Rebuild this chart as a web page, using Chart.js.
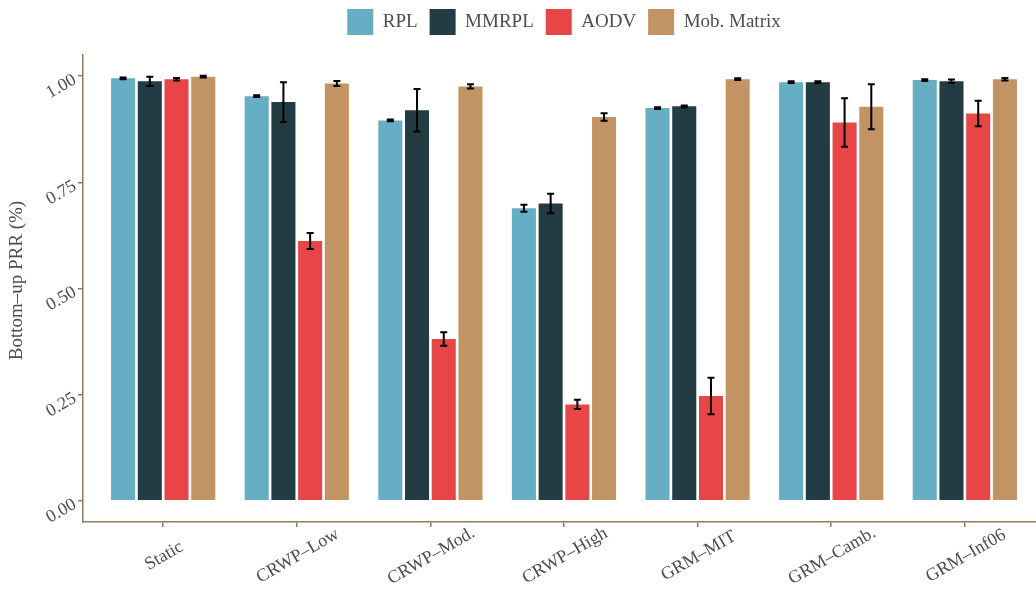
<!DOCTYPE html>
<html>
<head>
<meta charset="utf-8">
<script src="https://cdn.jsdelivr.net/npm/chart.js@4/dist/chart.umd.min.js"></script>
<style>
  html, body { margin: 0; padding: 0; background: #ffffff; overflow: hidden; }
  #wrap { width: 1036px; height: 592px; position: relative; overflow: hidden; }
  #prr { display: block; }
</style>
</head>
<body>
<div id="wrap"><canvas id="prr" width="1045" height="592"></canvas></div>
<script>
// Mobility scenarios on the x axis
const categories = ['Static', 'CRWP–Low', 'CRWP–Mod.', 'CRWP–High', 'GRM–MIT', 'GRM–Camb.', 'GRM–Inf06'];
const seriesNames = ['RPL', 'MMRPL', 'AODV', 'Mob. Matrix'];

// Mean bottom-up packet reception ratio per protocol
const rplValues   = [0.995, 0.953, 0.896, 0.689, 0.925, 0.986, 0.991];
const mmrplValues = [0.988, 0.939, 0.920, 0.700, 0.929, 0.986, 0.988];
const aodvValues  = [0.993, 0.612, 0.381, 0.227, 0.247, 0.891, 0.912];
const mobValues   = [0.999, 0.983, 0.976, 0.904, 0.993, 0.928, 0.993];

// Half-width of the error bars
const rplErrors   = [0.002, 0.002, 0.002, 0.008, 0.002, 0.002, 0.002];
const mmrplErrors = [0.011, 0.047, 0.050, 0.023, 0.002, 0.002, 0.004];
const aodvErrors  = [0.003, 0.019, 0.016, 0.011, 0.043, 0.057, 0.030];
const mobErrors   = [0.002, 0.006, 0.005, 0.009, 0.002, 0.053, 0.003];

const yTicks = [0, 0.25, 0.5, 0.75, 1];
const yTickLabels = ['0.00', '0.25', '0.50', '0.75', '1.00'];
const yTitle = 'Bottom–up PRR (%)';

const seriesColors = ['#65aec4', '#233b43', '#e84546', '#c29363'];
const axisColor = '#8f7a60';
const textColor = '#4d4d4d';
const fontFamily = '"Liberation Serif", "Times New Roman", serif';

const seriesValues = [rplValues, mmrplValues, aodvValues, mobValues];
const seriesErrors = [rplErrors, mmrplErrors, aodvErrors, mobErrors];

const datasets = seriesNames.map((name, s) => ({
  label: name,
  data: seriesValues[s].map((v, i) => ({ x: i + 1, y: v })),
  errors: seriesErrors[s],
  backgroundColor: seriesColors[s],
  borderWidth: 0,
  categoryPercentage: 0.8,
  barPercentage: 0.9
}));

// Mean ± error whiskers drawn over the bars
const errorBars = {
  id: 'errorBars',
  afterDatasetsDraw(chart) {
    const ctx = chart.ctx;
    const yScale = chart.scales.y;
    ctx.save();
    ctx.strokeStyle = '#000000';
    ctx.lineWidth = 2;
    chart.data.datasets.forEach((ds, di) => {
      const meta = chart.getDatasetMeta(di);
      meta.data.forEach((bar, i) => {
        const v = ds.data[i].y;
        const e = ds.errors[i];
        const top = yScale.getPixelForValue(v + e);
        const bot = yScale.getPixelForValue(v - e);
        const half = 3.5;
        ctx.beginPath();
        ctx.moveTo(bar.x, top); ctx.lineTo(bar.x, bot);
        ctx.moveTo(bar.x - half, top); ctx.lineTo(bar.x + half, top);
        ctx.moveTo(bar.x - half, bot); ctx.lineTo(bar.x + half, bot);
        ctx.stroke();
      });
    });
    ctx.restore();
  }
};

// Slanted tick labels and the y axis title
const axisText = {
  id: 'axisText',
  afterDraw(chart) {
    const ctx = chart.ctx;
    const xs = chart.scales.x, ys = chart.scales.y;
    const area = chart.chartArea;
    const angle = -Math.PI / 6;
    ctx.save();
    ctx.fillStyle = textColor;
    ctx.font = '18px ' + fontFamily;

    // category labels, centred under each tick
    ctx.textAlign = 'center';
    ctx.textBaseline = 'middle';
    xs.ticks.forEach((t, i) => {
      const px = xs.getPixelForValue(t.value);
      ctx.save();
      ctx.translate(px + 1, area.bottom + 34);
      ctx.rotate(angle);
      ctx.fillText(categories[i], 0, 0);
      ctx.restore();
    });

    // value labels, right end next to each tick
    ctx.textAlign = 'right';
    ys.ticks.forEach((t, i) => {
      const py = ys.getPixelForValue(t.value);
      ctx.save();
      ctx.translate(area.left - 8, py + 2.5);
      ctx.rotate(angle);
      ctx.fillText(yTickLabels[i], 0, 0);
      ctx.restore();
    });

    // axis title
    ctx.font = '19px ' + fontFamily;
    ctx.textAlign = 'center';
    ctx.save();
    ctx.translate(17.5, (area.top + area.bottom) / 2 - 8);
    ctx.rotate(-Math.PI / 2);
    ctx.fillText(yTitle, 0, 0);
    ctx.restore();

    ctx.restore();
  }
};

const axisGrid = {
  display: true,
  drawOnChartArea: false,
  drawTicks: true,
  tickLength: 5,
  color: axisColor,
  lineWidth: 1.5,
  offset: false
};

new Chart(document.getElementById('prr'), {
  type: 'bar',
  data: { datasets },
  plugins: [errorBars, axisText],
  options: {
    responsive: false,
    animation: false,
    devicePixelRatio: 1,
    layout: { padding: { left: 7, right: 0, top: -3, bottom: 65 } },
    scales: {
      x: {
        type: 'linear',
        min: 0.4,
        max: 7.6,
        offset: false,
        grid: axisGrid,
        border: { display: true, color: axisColor, width: 1.5 },
        ticks: { display: false },
        afterBuildTicks: (s) => { s.ticks = categories.map((_, i) => ({ value: i + 1 })); },
        afterFit: (s) => { s.height = 5; }
      },
      y: {
        type: 'linear',
        min: -0.05,
        max: 1.05,
        grid: axisGrid,
        border: { display: true, color: axisColor, width: 1.5 },
        ticks: { display: false },
        afterBuildTicks: (s) => { s.ticks = yTicks.map(v => ({ value: v })); },
        afterFit: (s) => { s.width = 76; }
      }
    },
    plugins: {
      legend: {
        position: 'top',
        fullSize: false,
        labels: {
          boxWidth: 26,
          boxHeight: 26,
          padding: 12,
          color: textColor,
          font: { family: fontFamily, size: 19 }
        }
      },
      title: {
        display: true,
        text: '',
        weight: 500,
        padding: 0,
        font: { size: 10, lineHeight: 1 }
      },
      tooltip: { enabled: false }
    }
  }
});
</script>
</body>
</html>
